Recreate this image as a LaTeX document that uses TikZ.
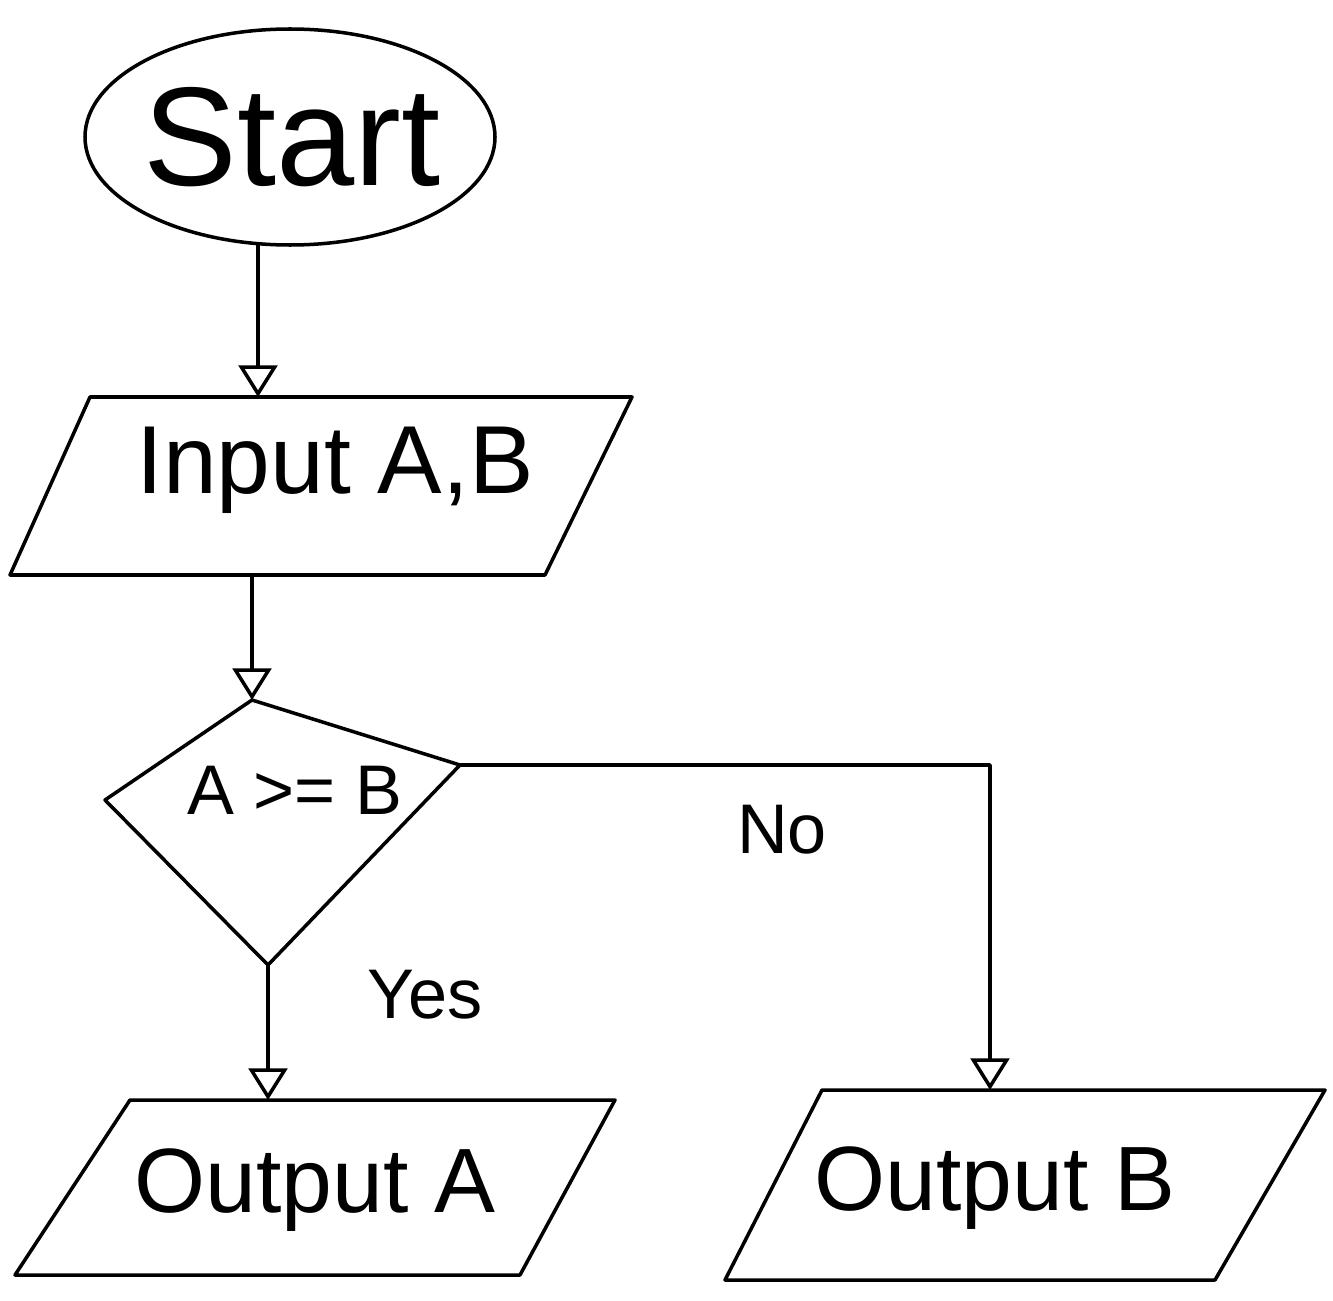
\documentclass[tikz,border=0pt]{standalone}
\usepackage{fontspec}
\setmainfont{Liberation Sans}
\usetikzlibrary{arrows.meta}
\begin{document}
\begin{tikzpicture}[x=0.02cm,y=-0.02cm,line width=2pt,line join=round,
  flow/.style={draw=black,-{Triangle[open,length=18pt,width=22pt]}},
  boxtext/.style={inner sep=0pt,font=\fontsize{52}{60}\selectfont},
  edgelabel/.style={inner sep=0pt,font=\fontsize{40}{48}\selectfont}]
\useasboundingbox (0,0) rectangle (1333,1301);
\fill[white] (0,0) rectangle (1333,1301);

% terminal
\draw (290,137) ellipse [x radius=205, y radius=108];
\node[inner sep=0pt,font=\fontsize{80}{90}\selectfont] (start) at (292,137) {Start};
\coordinate (startOut) at (258,244);

% input parallelogram
\draw (90,397) -- (632,397) -- (545,575) -- (10,575) -- cycle;
\node[boxtext,font=\fontsize{55}{64}\selectfont] (input) at (335,470) {Input A,B};
\coordinate (inTop) at (258,397);
\coordinate (inBot) at (252,575);

% decision diamond
\coordinate (dTop) at (252,700);
\coordinate (dLeft) at (105,800);
\coordinate (dRight) at (460,765);
\coordinate (dBot) at (268,965);
\draw (dTop) -- (dRight) -- (dBot) -- (dLeft) -- cycle;
\node[inner sep=0pt,font=\fontsize{40}{48}\selectfont] (cond) at (295,790) {A >= B};

% output parallelograms
\draw (130,1100) -- (615,1100) -- (520,1275) -- (15,1275) -- cycle;
\node[boxtext] (outA) at (315,1190) {Output A};
\coordinate (outATop) at (268,1100);

\draw (822,1090) -- (1325,1090) -- (1215,1280) -- (725,1280) -- cycle;
\node[boxtext] (outB) at (995,1188) {Output B};
\coordinate (outBTop) at (990,1090);

% connectors
\draw[flow] (startOut) -- (inTop);
\draw[flow] (inBot) -- (dTop);
\draw[flow] (dBot) -- (outATop);
\draw[flow] (dRight) -| (outBTop);

% branch labels
\node[edgelabel] (yes) at (425,995) {Yes};
\node[edgelabel] (no) at (782,830) {No};
\end{tikzpicture}
\end{document}
